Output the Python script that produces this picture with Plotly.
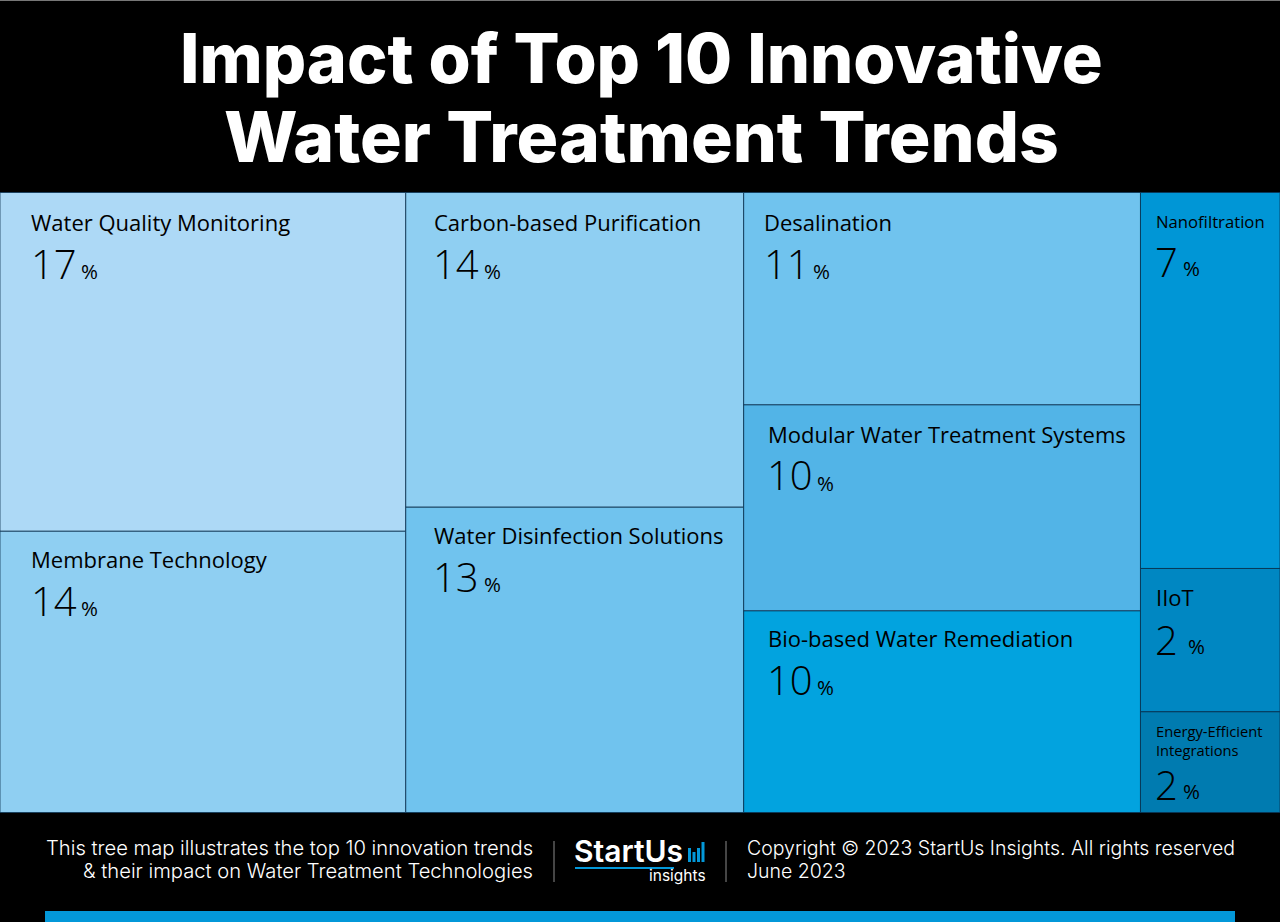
import plotly.graph_objects as go

W, H = 1280, 922

# --- data ---
columns = ["c1", "c2", "c3", "c4"]
trends = ["Water Quality Monitoring", "Membrane Technology",
          "Carbon-based Purification", "Water Disinfection Solutions",
          "Desalination", "Modular Water Treatment Systems", "Bio-based Water Remediation",
          "Nanofiltration", "IIoT", "Energy-Efficient<br>Integrations"]
trend_column = ["c1", "c1", "c2", "c2", "c3", "c3", "c3", "c4", "c4", "c4"]
percents = [17, 14, 14, 13, 11, 10, 10, 7, 2, 2]
tile_sizes = [17.32, 14.38, 13.4, 13.0, 10.62, 10.3, 10.08, 6.61, 2.52, 1.77]
tile_colors = ["#ADD9F6", "#8FCFF2", "#8FCFF2", "#70C3EE", "#70C3EE",
               "#52B4E7", "#02A3DF", "#0096D6", "#0087C2", "#007BB0"]

title_lines = ["Impact of Top 10 Innovative", "Water Treatment Trends"]
footer_left = ["This tree map illustrates the top 10 innovation trends",
               "& their impact on Water Treatment Technologies"]
footer_right = ["Copyright © 2023 StartUs Insights. All rights reserved", "June 2023"]

# --- label placement (pixels in the page) ---
label_pos = [(31, 222), (31, 559), (434, 222), (434, 535), (764, 222),
             (768, 434), (768, 638), (1156, 222), (1156, 597), (1156, 740)]
label_size = [22, 22, 22, 22, 22, 22, 22, 16.7, 22, 14.7]
num_pos = [(31, 263), (31, 600), (433, 263), (433, 576), (764, 263),
           (767, 475), (767, 679), (1155, 261), (1155, 639), (1155, 784)]
pct_pos = [(81, 271), (81, 608), (484, 271), (484, 584), (813, 271),
           (817, 483), (817, 687), (1183, 268), (1188, 646), (1183, 791)]
title_sizes = [68.2, 69.5]

FONT_TEXT = "Open Sans"
FONT_HEAD = "Inter"


def px(x):
    return x / W


def py(y):
    return 1 - y / H


def note(x, y, text, size, color="#000000", family=FONT_TEXT, anchor="left", weight=None, align=None):
    f = dict(family=family, size=size, color=color)
    if weight:
        f["weight"] = weight
    return dict(xref="paper", yref="paper", x=px(x), y=py(y), text=text, showarrow=False,
                xanchor=anchor, yanchor="middle", font=f, align=align or anchor,
                borderpad=0, borderwidth=0)


# --- treemap hierarchy ---
col_sizes = [sum(s for s, c in zip(tile_sizes, trend_column) if c == col) for col in columns]
ids = ["root"] + columns + [f"t{i}" for i in range(len(trends))]
labels = ["root"] + columns + trends
parents = [""] + ["root"] * len(columns) + trend_column
values = [sum(col_sizes)] + col_sizes + tile_sizes
colors = ["#000000"] * (1 + len(columns)) + tile_colors

fig = go.Figure(go.Treemap(
    ids=ids, labels=labels, parents=parents, values=values,
    branchvalues="total", sort=False, textinfo="none", hoverinfo="skip",
    domain=dict(x=[0, 1], y=[py(812.5), py(192.5)]),
    tiling=dict(packing="slice-dice", pad=0),
    pathbar=dict(visible=False),
    marker=dict(colors=colors, depthfade=False, pad=dict(t=0, l=0, r=0, b=0),
                line=dict(color="rgba(10,45,75,0.75)", width=1)),
))

ann = []
for line, y, size in zip(title_lines, [58, 137], title_sizes):
    ann.append(note(641, y, line, size, color="#FFFFFF", family=FONT_HEAD, anchor="center", weight=800))

for i, name in enumerate(trends):
    ann.append(note(*label_pos[i], name, label_size[i]))
    ann.append(note(*num_pos[i], str(percents[i]), 40, weight=300))
    ann.append(note(*pct_pos[i], "%", 20.5, weight=400))

for line, y in zip(footer_left, [847.5, 870.5]):
    ann.append(note(533, y, line, 20.2, color="#FFFFFF", family=FONT_HEAD, anchor="right", weight=300))
for line, y in zip(footer_right, [848, 871]):
    ann.append(note(747, y, line, 19.5, color="#FFFFFF", family=FONT_HEAD, weight=300))

ann.append(note(574, 851, "StartUs", 30, color="#FFFFFF", family=FONT_HEAD, weight=600))
ann.append(note(706, 875, "insights", 15.5, color="#FFFFFF", family=FONT_HEAD, anchor="right", weight=400))


def rect(x0, y0, x1, y1, color):
    return dict(type="rect", xref="paper", yref="paper", x0=px(x0), x1=px(x1), y0=py(y0), y1=py(y1),
                fillcolor=color, line=dict(width=0), layer="above")


shapes = [
    rect(0, 0, 1280, 1, "#777777"),
    rect(45, 911, 1235, 922, "#0398D9"),
    rect(553.5, 841, 554.5, 882, "#8A8A8A"),
    rect(725.5, 841, 726.5, 882, "#8A8A8A"),
    rect(575, 867, 674, 869, "#0398D9"),
]
for x0, top in zip([688, 692.5, 697, 701.5], [848, 852, 848, 842]):
    shapes.append(rect(x0, top, x0 + 3, 862, "#0398D9"))

fig.update_layout(width=W, height=H, margin=dict(l=0, r=0, t=0, b=0), autosize=False,
                  paper_bgcolor="#000000", plot_bgcolor="#000000",
                  annotations=ann, shapes=shapes, showlegend=False)

fig.write_html("out.html", post_script="document.body.style.margin='0';document.body.style.background='#000';",
               config=dict(displayModeBar=False))
